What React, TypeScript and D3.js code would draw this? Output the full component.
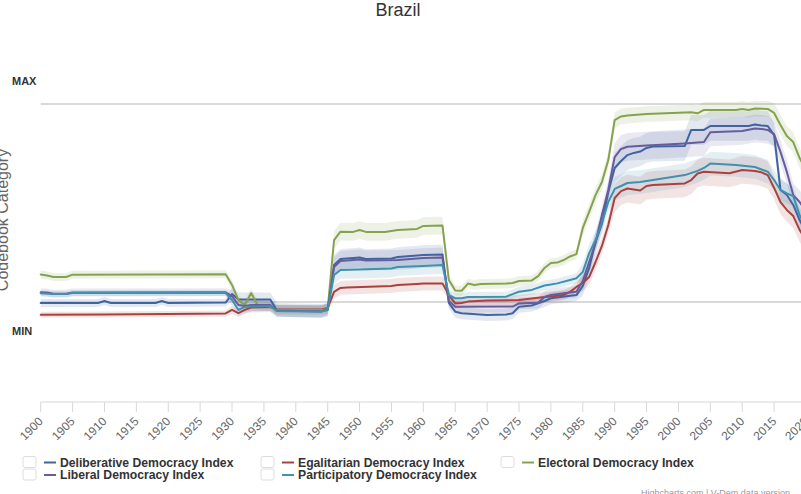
import * as d3 from "d3";

type Pt = [number, number];

// index values, MIN gridline = 0, MAX gridline = 1
const deliberative: Pt[] = [
  [1900, -0.005], [1909, -0.005], [1910, 0.005], [1911, -0.005], [1918, -0.005], [1919, 0.005], [1920, -0.005],
  [1929, -0.003], [1930, 0.04], [1931, 0.013], [1936, 0.013], [1937, -0.04], [1944, -0.045], [1945, -0.04],
  [1946, 0.187], [1947, 0.217], [1950, 0.225], [1951, 0.217], [1955, 0.22], [1956, 0.227], [1960, 0.237],
  [1963, 0.24], [1964, -0.005], [1965, -0.049], [1966, -0.057], [1970, -0.066], [1973, -0.063], [1974, -0.057],
  [1975, -0.024], [1977, -0.018], [1979, 0.005], [1980, 0.019], [1984, 0.035], [1985, 0.081], [1986, 0.172],
  [1987, 0.303], [1988, 0.394], [1989, 0.556], [1990, 0.677], [1991, 0.712], [1992, 0.742], [1993, 0.753],
  [1994, 0.76], [1995, 0.778], [1996, 0.785], [2001, 0.788], [2002, 0.869], [2004, 0.869], [2005, 0.889],
  [2011, 0.889], [2012, 0.896], [2013, 0.891], [2014, 0.889], [2015, 0.843], [2016, 0.566], [2017, 0.54],
  [2018, 0.49], [2019, 0.414], [2020, 0.354],
];
const egalitarian: Pt[] = [
  [1900, -0.064], [1910, -0.063], [1920, -0.061], [1929, -0.058], [1930, -0.04], [1931, -0.056], [1932, -0.04],
  [1933, -0.028], [1936, -0.025], [1937, -0.038], [1944, -0.038], [1945, -0.03], [1946, 0.051], [1947, 0.071],
  [1948, 0.073], [1955, 0.081], [1956, 0.086], [1959, 0.091], [1960, 0.093], [1963, 0.094], [1964, 0.035],
  [1965, -0.007], [1966, -0.005], [1967, 0.002], [1970, 0.007], [1975, 0.01], [1979, 0.025], [1980, 0.028],
  [1982, 0.035], [1983, 0.051], [1984, 0.076], [1985, 0.096], [1986, 0.126], [1987, 0.202], [1988, 0.283],
  [1989, 0.389], [1990, 0.525], [1991, 0.56], [1992, 0.573], [1994, 0.563], [1995, 0.586], [1996, 0.591],
  [2001, 0.599], [2002, 0.616], [2003, 0.649], [2004, 0.658], [2008, 0.65], [2010, 0.667], [2012, 0.662],
  [2013, 0.655], [2014, 0.641], [2015, 0.576], [2016, 0.505], [2017, 0.465], [2018, 0.434], [2019, 0.364],
  [2020, 0.313],
];
const electoral: Pt[] = [
  [1900, 0.139], [1901, 0.134], [1902, 0.126], [1904, 0.126], [1905, 0.138], [1929, 0.14], [1930, 0.086],
  [1931, 0.01], [1932, -0.015], [1933, 0.045], [1934, -0.015], [1936, -0.023], [1937, -0.04], [1944, -0.04],
  [1945, -0.035], [1946, 0.313], [1947, 0.355], [1949, 0.354], [1950, 0.364], [1951, 0.354], [1954, 0.354],
  [1956, 0.364], [1959, 0.369], [1960, 0.384], [1963, 0.386], [1964, 0.111], [1965, 0.058], [1966, 0.057],
  [1967, 0.093], [1968, 0.086], [1969, 0.091], [1973, 0.093], [1974, 0.096], [1975, 0.106], [1977, 0.109],
  [1978, 0.131], [1979, 0.172], [1980, 0.197], [1981, 0.199], [1982, 0.212], [1983, 0.23], [1984, 0.242],
  [1985, 0.374], [1986, 0.455], [1987, 0.54], [1988, 0.606], [1989, 0.717], [1990, 0.919], [1991, 0.937],
  [1992, 0.942], [1993, 0.944], [1995, 0.949], [1998, 0.953], [2002, 0.958], [2003, 0.953], [2004, 0.97],
  [2009, 0.97], [2010, 0.975], [2011, 0.97], [2012, 0.977], [2014, 0.975], [2015, 0.955], [2016, 0.894],
  [2017, 0.838], [2018, 0.808], [2019, 0.727], [2020, 0.667],
];
const liberal: Pt[] = [
  [1900, 0.049], [1901, 0.048], [1902, 0.042], [1904, 0.042], [1905, 0.048], [1929, 0.049], [1930, 0.03],
  [1931, -0.015], [1932, -0.02], [1933, -0.015], [1936, -0.015], [1937, -0.043], [1944, -0.048], [1945, -0.035],
  [1946, 0.177], [1947, 0.207], [1950, 0.215], [1951, 0.21], [1956, 0.212], [1960, 0.222], [1963, 0.225],
  [1964, 0.005], [1965, -0.024], [1974, -0.023], [1975, -0.007], [1978, -0.004], [1979, 0.025], [1980, 0.035],
  [1982, 0.044], [1984, 0.052], [1985, 0.106], [1986, 0.202], [1987, 0.298], [1988, 0.439], [1989, 0.566],
  [1990, 0.732], [1991, 0.773], [1992, 0.784], [1995, 0.79], [2001, 0.801], [2004, 0.808], [2005, 0.857],
  [2010, 0.864], [2012, 0.876], [2013, 0.874], [2014, 0.869], [2015, 0.848], [2016, 0.758], [2017, 0.657],
  [2018, 0.54], [2019, 0.505], [2020, 0.455],
];
const participatory: Pt[] = [
  [1900, 0.044], [1902, 0.04], [1904, 0.04], [1905, 0.045], [1929, 0.045], [1930, 0.01], [1931, -0.04],
  [1932, -0.025], [1933, -0.023], [1936, -0.02], [1937, -0.045], [1944, -0.048], [1945, -0.038], [1946, 0.136],
  [1947, 0.162], [1950, 0.164], [1955, 0.169], [1956, 0.177], [1960, 0.182], [1963, 0.187], [1964, 0.035],
  [1965, 0.019], [1966, 0.019], [1967, 0.025], [1973, 0.027], [1974, 0.04], [1975, 0.052], [1977, 0.061],
  [1979, 0.083], [1980, 0.088], [1981, 0.094], [1983, 0.111], [1984, 0.12], [1985, 0.152], [1986, 0.247],
  [1987, 0.313], [1988, 0.399], [1989, 0.505], [1990, 0.571], [1991, 0.586], [1992, 0.601], [1994, 0.606],
  [1996, 0.616], [2001, 0.641], [2003, 0.662], [2004, 0.677], [2005, 0.699], [2009, 0.692], [2012, 0.682],
  [2014, 0.658], [2015, 0.616], [2016, 0.566], [2017, 0.548], [2018, 0.535], [2019, 0.439], [2020, 0.374],
];

// confidence band half widths, [from year, half width]
const deliberativeBand: Pt[] = [[1900, 0.02], [1930, 0.035], [1946, 0.05], [1964, 0.03], [1985, 0.05], [1990, 0.075], [2015, 0.06]];
const egalitarianBand: Pt[] = [[1900, 0.015], [1930, 0.02], [1946, 0.035], [1964, 0.025], [1985, 0.04], [1990, 0.07], [2015, 0.06]];
const electoralBand: Pt[] = [[1900, 0.02], [1930, 0.025], [1946, 0.045], [1964, 0.025], [1985, 0.04], [1990, 0.04], [2015, 0.05]];
const liberalBand: Pt[] = [[1900, 0.02], [1930, 0.03], [1946, 0.05], [1964, 0.03], [1985, 0.05], [1990, 0.07], [2015, 0.06]];
const participatoryBand: Pt[] = [[1900, 0.015], [1930, 0.03], [1946, 0.045], [1964, 0.025], [1985, 0.045], [1990, 0.06], [2015, 0.05]];

const seriesNames = [
  "Deliberative Democracy Index",
  "Egalitarian Democracy Index",
  "Electoral Democracy Index",
  "Liberal Democracy Index",
  "Participatory Democracy Index",
];
const seriesColors = ["#40649e", "#a8423f", "#86a24f", "#675c9c", "#3f91ae"];
const seriesPoints = [deliberative, egalitarian, electoral, liberal, participatory];
const seriesBands = [deliberativeBand, egalitarianBand, electoralBand, liberalBand, participatoryBand];

const tickYears = [
  1900, 1905, 1910, 1915, 1920, 1925, 1930, 1935, 1940, 1945, 1950, 1955, 1960,
  1965, 1970, 1975, 1980, 1985, 1990, 1995, 2000, 2005, 2010, 2015, 2020,
];
const yTickLabels = ["MIN", "MAX"];

const W = 801;
const H = 494;
const font = "'Liberation Sans', Arial, sans-serif";

const x = d3.scaleLinear().domain([1900, 2020]).range([40.7, 806]);
const y = d3.scaleLinear().domain([0, 1]).range([302, 104]);
const axisY = 402;

const halfWidth = (band: Pt[], year: number) => {
  let hw = band[0][1];
  for (const [yr, w] of band) if (year >= yr) hw = w;
  return hw;
};

export default function App() {
  const line = d3.line<Pt>().x((d) => x(d[0])).y((d) => y(d[1]));

  // legend: 3 per row
  const legendCols = [60, 298, 538];
  const legendRows = [462.5, 475];

  return (
    <svg
      width={W}
      height={H}
      style={{ position: "absolute", left: 0, top: 0, background: "#fff" }}
      fontFamily={font}
    >
      <text x={398} y={16} textAnchor="middle" fontSize={18} fill="#333">
        Brazil
      </text>

      {/* y-axis title, cut at the left edge */}
      <text
        transform={`translate(8, 220) rotate(-90)`}
        textAnchor="middle"
        fontSize={16}
        fill="#666"
      >
        Codebook Category
      </text>

      {/* gridlines */}
      {[0, 1].map((v) => (
        <line key={v} x1={x(1900)} x2={W} y1={y(v)} y2={y(v)} stroke="#cccccc" strokeWidth={1.6} />
      ))}
      <text x={12} y={y(1) - 19} fontSize={11} fontWeight="bold" fill="#333">
        {yTickLabels[1]}
      </text>
      <text x={12} y={y(0) + 32.5} fontSize={11} fontWeight="bold" fill="#333">
        {yTickLabels[0]}
      </text>

      {/* bands */}
      {seriesPoints.map((pts, i) => {
        const band = seriesBands[i];
        const area = d3
          .area<Pt>()
          .x((d) => x(d[0]))
          .y0((d) => y(d[1] - halfWidth(band, d[0])))
          .y1((d) => y(d[1] + halfWidth(band, d[0])));
        return <path key={"b" + i} d={area(pts) ?? ""} fill={seriesColors[i]} fillOpacity={0.14} stroke="none" />;
      })}

      {/* lines */}
      {seriesPoints.map((pts, i) => (
        <path
          key={"l" + i}
          d={line(pts) ?? ""}
          fill="none"
          stroke={seriesColors[i]}
          strokeWidth={2}
          strokeLinejoin="round"
          strokeLinecap="round"
        />
      ))}

      {/* x axis */}
      <line x1={x(1900)} x2={W} y1={axisY} y2={axisY} stroke="#d8d8d8" strokeWidth={1} />
      {tickYears.map((t) => (
        <g key={t}>
          <line x1={x(t)} x2={x(t)} y1={axisY} y2={axisY + 10} stroke="#d8d8d8" strokeWidth={1} />
          <text
            transform={`translate(${x(t) + 3}, ${axisY + 20}) rotate(-45)`}
            textAnchor="end"
            fontSize={12}
            fill="#666"
          >
            {t}
          </text>
        </g>
      ))}

      {/* legend */}
      {seriesNames.map((name, i) => {
        const cx = legendCols[i % 3];
        const cy = legendRows[Math.floor(i / 3)];
        return (
          <g key={name}>
            <rect x={cx - 37} y={cy - 6} width={13} height={11} rx={2} fill="#fff" stroke="#dddddd" strokeWidth={1} />
            <line x1={cx - 16} x2={cx - 4} y1={cy} y2={cy} stroke={seriesColors[i]} strokeWidth={2} />
            <text x={cx} y={cy + 4.2} fontSize={12.2} fontWeight="bold" fill="#333">
              {name}
            </text>
          </g>
        );
      })}

      <text x={641} y={496} fontSize={9} fill="#999">
        Highcharts.com | V-Dem data version
      </text>
    </svg>
  );
}
